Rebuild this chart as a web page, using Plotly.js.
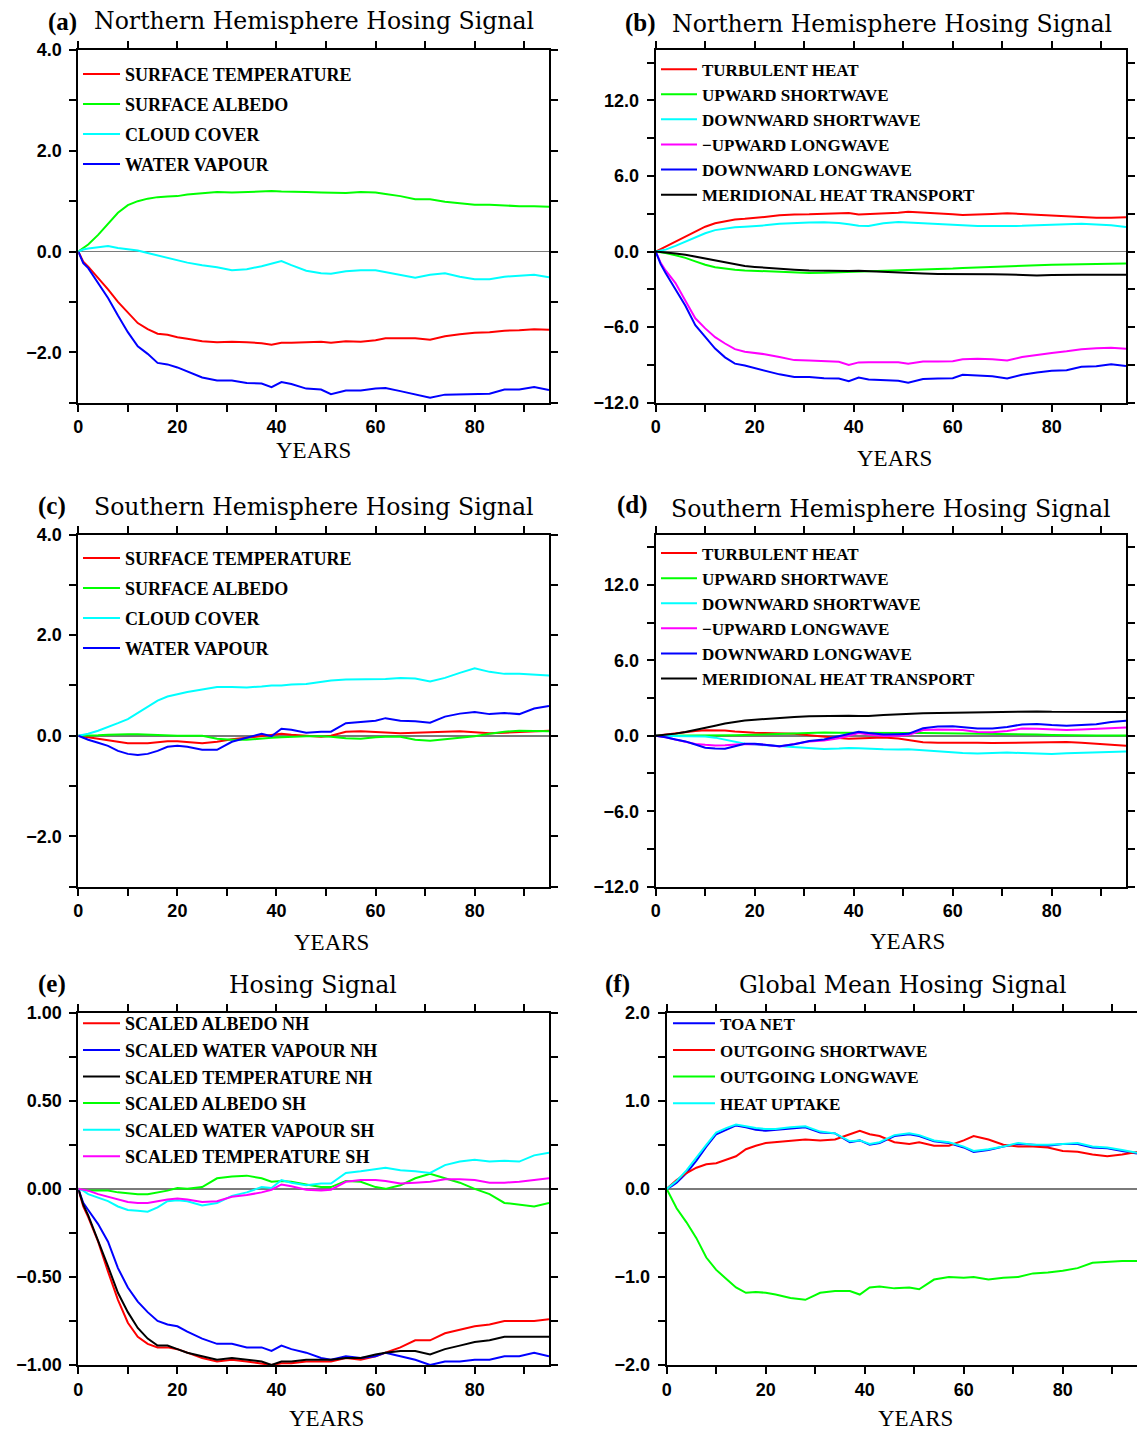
<!DOCTYPE html>
<html>
<head>
<meta charset="utf-8">
<script src="https://cdn.plot.ly/plotly-3.0.1.min.js"></script>
<style>
html,body{margin:0;padding:0;background:#ffffff;}
#chart{width:1137px;height:1432px;}
</style>
</head>
<body>
<div id="chart"></div>
<script>
// ---------------- DATA ----------------
const YEARS = [0,1,2,4,6,8,10,12,14,16,18,20,22,25,28,31,34,37,39,41,43,46,49,51,54,57,60,62,65,68,71,74,77,80,83,86,89,92,95];

// (a) Northern Hemisphere
const A_NAMES = ['SURFACE TEMPERATURE','SURFACE ALBEDO','CLOUD COVER','WATER VAPOUR'];
const A_TEMP = [0,-0.2,-0.3,-0.52,-0.75,-1.0,-1.22,-1.42,-1.54,-1.63,-1.65,-1.7,-1.73,-1.78,-1.8,-1.79,-1.8,-1.82,-1.85,-1.81,-1.81,-1.8,-1.79,-1.81,-1.78,-1.79,-1.76,-1.72,-1.72,-1.72,-1.75,-1.68,-1.64,-1.61,-1.6,-1.57,-1.56,-1.54,-1.55];
const A_ALB  = [0,0.07,0.14,0.33,0.55,0.77,0.92,1.0,1.05,1.08,1.09,1.1,1.13,1.16,1.18,1.17,1.18,1.19,1.2,1.19,1.19,1.18,1.17,1.17,1.16,1.18,1.17,1.14,1.1,1.04,1.04,0.99,0.96,0.93,0.93,0.91,0.9,0.9,0.89];
const A_CLD  = [0,0.04,0.06,0.09,0.11,0.07,0.04,0.02,-0.03,-0.08,-0.13,-0.17,-0.22,-0.27,-0.31,-0.37,-0.35,-0.29,-0.24,-0.19,-0.27,-0.38,-0.43,-0.44,-0.39,-0.37,-0.37,-0.41,-0.47,-0.52,-0.46,-0.43,-0.5,-0.55,-0.55,-0.5,-0.48,-0.46,-0.51];
const A_WV   = [0,-0.23,-0.33,-0.62,-0.92,-1.27,-1.6,-1.88,-2.03,-2.21,-2.24,-2.3,-2.38,-2.5,-2.56,-2.56,-2.61,-2.62,-2.69,-2.59,-2.63,-2.72,-2.74,-2.83,-2.76,-2.76,-2.72,-2.71,-2.77,-2.84,-2.9,-2.84,-2.83,-2.82,-2.82,-2.74,-2.74,-2.69,-2.75];

// (b) Northern Hemisphere surface fluxes
const B_NAMES = ['TURBULENT HEAT','UPWARD SHORTWAVE','DOWNWARD SHORTWAVE','\u2212UPWARD LONGWAVE','DOWNWARD LONGWAVE','MERIDIONAL HEAT TRANSPORT'];
const B_TURB = [0,0.2,0.4,0.8,1.2,1.6,1.97,2.25,2.42,2.55,2.6,2.65,2.75,2.88,2.95,2.96,2.98,3.03,3.06,2.95,2.97,3.05,3.08,3.15,3.1,3.02,2.96,2.9,2.92,2.98,3.04,2.98,2.93,2.85,2.78,2.7,2.69,2.68,2.73];
const B_USW  = [0,-0.05,-0.12,-0.3,-0.5,-0.78,-1.05,-1.25,-1.38,-1.45,-1.5,-1.54,-1.58,-1.62,-1.67,-1.7,-1.69,-1.65,-1.63,-1.6,-1.59,-1.57,-1.54,-1.51,-1.46,-1.42,-1.35,-1.3,-1.25,-1.2,-1.17,-1.13,-1.09,-1.05,-1.03,-1.0,-0.98,-0.96,-0.95];
const B_DSW  = [0,0.05,0.15,0.45,0.8,1.15,1.45,1.7,1.82,1.92,1.97,2.0,2.08,2.2,2.28,2.31,2.33,2.27,2.17,2.05,2.02,2.25,2.34,2.3,2.22,2.17,2.12,2.05,2.02,2.02,2.02,2.04,2.08,2.12,2.2,2.2,2.15,2.08,1.94];
const B_ULW  = [0,-0.9,-1.5,-2.5,-3.9,-5.3,-6.1,-6.8,-7.3,-7.75,-7.95,-8.02,-8.15,-8.38,-8.62,-8.65,-8.68,-8.75,-9.0,-8.8,-8.78,-8.8,-8.78,-8.9,-8.73,-8.72,-8.7,-8.55,-8.52,-8.55,-8.64,-8.38,-8.2,-8.05,-7.92,-7.75,-7.68,-7.64,-7.72];
const B_DLW  = [0,-1.0,-1.7,-3.0,-4.3,-5.85,-6.75,-7.7,-8.4,-8.9,-9.05,-9.25,-9.45,-9.75,-9.95,-9.95,-10.05,-10.08,-10.3,-10.0,-10.15,-10.2,-10.25,-10.41,-10.12,-10.08,-10.05,-9.78,-9.85,-9.9,-10.07,-9.78,-9.6,-9.46,-9.42,-9.15,-9.1,-8.95,-9.09];
const B_MHT  = [0,-0.03,-0.07,-0.15,-0.25,-0.4,-0.55,-0.72,-0.88,-1.03,-1.15,-1.22,-1.29,-1.37,-1.44,-1.5,-1.53,-1.56,-1.55,-1.53,-1.57,-1.63,-1.68,-1.72,-1.75,-1.78,-1.78,-1.76,-1.76,-1.8,-1.82,-1.86,-1.9,-1.87,-1.84,-1.84,-1.84,-1.84,-1.84];

// (c) Southern Hemisphere
const C_NAMES = A_NAMES;
const C_TEMP = [0,-0.01,-0.03,-0.06,-0.09,-0.13,-0.15,-0.15,-0.15,-0.13,-0.11,-0.11,-0.13,-0.15,-0.12,-0.07,-0.04,-0.01,0.02,0.04,0.02,0,-0.02,0,0.08,0.09,0.08,0.07,0.05,0.06,0.07,0.09,0.09,0.07,0.05,0.06,0.07,0.09,0.1];
const C_ALB  = [0,0,0.01,0.01,0.02,0.03,0.03,0.03,0.02,0.01,0.01,0,0,0,-0.06,-0.08,-0.08,-0.05,-0.04,-0.03,-0.02,-0.01,-0.01,-0.02,-0.05,-0.06,-0.03,-0.02,-0.02,-0.08,-0.1,-0.07,-0.05,-0.01,0.04,0.08,0.1,0.1,0.09];
const C_CLD  = [0,0.02,0.04,0.1,0.17,0.25,0.33,0.45,0.58,0.7,0.78,0.83,0.87,0.92,0.97,0.97,0.96,0.98,1.0,1.0,1.02,1.03,1.07,1.1,1.12,1.12,1.12,1.13,1.15,1.14,1.08,1.15,1.25,1.34,1.27,1.23,1.23,1.22,1.2];
const C_WV   = [0,-0.04,-0.08,-0.14,-0.2,-0.3,-0.36,-0.38,-0.36,-0.3,-0.22,-0.2,-0.22,-0.28,-0.28,-0.12,-0.04,0.04,-0.01,0.14,0.12,0.06,0.08,0.08,0.25,0.28,0.3,0.35,0.3,0.29,0.26,0.38,0.44,0.47,0.43,0.45,0.43,0.54,0.59];

// (d) Southern Hemisphere surface fluxes
const D_NAMES = B_NAMES;
const D_TURB = [0,0.05,0.1,0.2,0.3,0.38,0.43,0.45,0.42,0.33,0.26,0.23,0.21,0.2,0.15,0.05,-0.08,-0.18,-0.23,-0.2,-0.14,-0.13,-0.22,-0.35,-0.52,-0.56,-0.55,-0.53,-0.55,-0.57,-0.56,-0.53,-0.5,-0.48,-0.5,-0.56,-0.62,-0.72,-0.8];
const D_USW  = [0,0,0,0.01,0.01,0.01,0.02,0.03,0.04,0.05,0.06,0.08,0.1,0.15,0.2,0.24,0.25,0.23,0.22,0.21,0.21,0.21,0.21,0.21,0.21,0.2,0.2,0.19,0.18,0.17,0.15,0.13,0.1,0.07,0.04,0.03,0.03,0.03,0.03];
const D_DSW  = [0,0,-0.01,-0.02,-0.03,-0.04,-0.05,-0.15,-0.3,-0.5,-0.64,-0.7,-0.75,-0.8,-0.9,-1.0,-1.05,-1.02,-0.98,-1.0,-1.05,-1.08,-1.1,-1.08,-1.15,-1.25,-1.33,-1.38,-1.41,-1.38,-1.33,-1.38,-1.42,-1.46,-1.4,-1.35,-1.3,-1.27,-1.25];
const D_ULW  = [0,-0.05,-0.12,-0.3,-0.5,-0.65,-0.72,-0.77,-0.75,-0.7,-0.65,-0.68,-0.72,-0.85,-0.68,-0.45,-0.38,-0.2,0.0,0.22,0.1,-0.02,0.0,0.05,0.45,0.5,0.48,0.45,0.3,0.27,0.38,0.58,0.56,0.5,0.46,0.5,0.55,0.62,0.66];
const D_DLW  = [0,-0.05,-0.12,-0.3,-0.45,-0.7,-0.95,-1.02,-1.04,-0.83,-0.64,-0.63,-0.7,-0.83,-0.68,-0.42,-0.3,-0.05,0.1,0.32,0.22,0.1,0.12,0.15,0.6,0.74,0.75,0.7,0.58,0.58,0.7,0.9,0.93,0.85,0.8,0.85,0.92,1.1,1.19];
const D_MHT  = [0,0.03,0.07,0.17,0.3,0.45,0.62,0.8,0.98,1.12,1.22,1.28,1.35,1.42,1.5,1.55,1.58,1.59,1.59,1.58,1.57,1.65,1.72,1.74,1.78,1.8,1.82,1.84,1.86,1.88,1.91,1.94,1.93,1.9,1.89,1.88,1.88,1.88,1.88];

// (e) Scaled hosing signal
const E_NAMES = ['SCALED ALBEDO NH','SCALED WATER VAPOUR NH','SCALED TEMPERATURE NH','SCALED ALBEDO SH','SCALED WATER VAPOUR SH','SCALED TEMPERATURE SH'];
const E_ALB_NH = [0,-0.1,-0.16,-0.3,-0.47,-0.63,-0.76,-0.84,-0.88,-0.9,-0.9,-0.91,-0.93,-0.96,-0.98,-0.97,-0.98,-0.99,-1.0,-0.99,-0.99,-0.98,-0.98,-0.98,-0.96,-0.97,-0.95,-0.93,-0.9,-0.86,-0.86,-0.82,-0.8,-0.78,-0.77,-0.75,-0.75,-0.75,-0.74];
const E_WV_NH  = [0,-0.08,-0.12,-0.2,-0.3,-0.45,-0.56,-0.64,-0.7,-0.75,-0.77,-0.78,-0.81,-0.85,-0.88,-0.88,-0.9,-0.9,-0.92,-0.89,-0.91,-0.93,-0.96,-0.97,-0.95,-0.96,-0.95,-0.93,-0.95,-0.97,-1.0,-0.98,-0.98,-0.97,-0.97,-0.95,-0.95,-0.93,-0.95];
const E_TMP_NH = [0,-0.09,-0.15,-0.29,-0.44,-0.59,-0.7,-0.79,-0.85,-0.89,-0.89,-0.91,-0.93,-0.95,-0.97,-0.96,-0.97,-0.98,-1.0,-0.98,-0.98,-0.97,-0.97,-0.97,-0.96,-0.96,-0.94,-0.93,-0.92,-0.92,-0.94,-0.91,-0.89,-0.87,-0.86,-0.84,-0.84,-0.84,-0.84];
const E_ALB_SH = [0,-0.005,-0.01,-0.01,-0.01,-0.02,-0.025,-0.03,-0.03,-0.02,-0.01,0.005,0.0,0.01,0.06,0.07,0.075,0.06,0.04,0.045,0.04,0.025,0.01,0.01,0.045,0.04,0.01,0.0,0.02,0.06,0.085,0.06,0.035,0.0,-0.03,-0.08,-0.09,-0.1,-0.08];
const E_WV_SH  = [0,-0.01,-0.03,-0.05,-0.07,-0.1,-0.12,-0.125,-0.13,-0.105,-0.07,-0.065,-0.07,-0.095,-0.08,-0.04,-0.02,0.01,0.005,0.05,0.035,0.02,0.03,0.03,0.09,0.1,0.11,0.12,0.105,0.1,0.09,0.135,0.155,0.165,0.155,0.16,0.155,0.19,0.205];
const E_TMP_SH = [0,-0.005,-0.01,-0.03,-0.045,-0.06,-0.075,-0.08,-0.08,-0.07,-0.06,-0.055,-0.06,-0.075,-0.07,-0.045,-0.035,-0.02,-0.005,0.025,0.015,-0.005,-0.01,-0.005,0.04,0.05,0.05,0.045,0.03,0.035,0.04,0.055,0.055,0.05,0.035,0.035,0.04,0.05,0.06];

// (f) Global mean
const F_NAMES = ['TOA NET','OUTGOING SHORTWAVE','OUTGOING LONGWAVE','HEAT UPTAKE'];
const F_TOA  = [0,0.03,0.07,0.18,0.32,0.48,0.62,0.67,0.72,0.7,0.67,0.66,0.67,0.69,0.7,0.64,0.63,0.53,0.55,0.5,0.52,0.6,0.62,0.6,0.54,0.52,0.47,0.42,0.44,0.48,0.51,0.5,0.49,0.51,0.51,0.47,0.46,0.43,0.4];
const F_OSW  = [0,0.05,0.1,0.18,0.24,0.28,0.29,0.33,0.37,0.45,0.49,0.52,0.53,0.55,0.56,0.55,0.56,0.62,0.66,0.62,0.6,0.53,0.51,0.53,0.49,0.49,0.55,0.6,0.56,0.5,0.48,0.48,0.47,0.43,0.42,0.39,0.37,0.39,0.42];
const F_OLW  = [0,-0.12,-0.22,-0.38,-0.56,-0.78,-0.92,-1.02,-1.12,-1.18,-1.17,-1.18,-1.2,-1.24,-1.26,-1.18,-1.16,-1.16,-1.2,-1.12,-1.11,-1.13,-1.12,-1.14,-1.03,-1.0,-1.01,-1.0,-1.03,-1.01,-1.0,-0.96,-0.95,-0.93,-0.9,-0.84,-0.83,-0.82,-0.82];
const F_HEAT = [0,0.04,0.09,0.21,0.36,0.5,0.64,0.69,0.73,0.71,0.69,0.68,0.68,0.7,0.71,0.65,0.63,0.54,0.55,0.51,0.53,0.61,0.63,0.61,0.55,0.53,0.48,0.43,0.45,0.48,0.52,0.5,0.5,0.51,0.52,0.48,0.47,0.44,0.41];

// ---------------- STYLE / LAYOUT ----------------
const W = 1137, H = 1432;
const fx = px => px / W;
const fy = py => 1 - py / H;

const RED='#ff0000', GRN='#00ff00', CYN='#00ffff', BLU='#0000ff', MAG='#ff00ff', BLK='#000000';

const panels = [
  {id:'', leg:'legend',  names:A_NAMES, data:[A_TEMP,A_ALB,A_CLD,A_WV], colors:[RED,GRN,CYN,BLU],
   xd:[78.3,549], yd:[50,402.7], yr:[-3,4], dt:2, mdt:1, fmt:'.1f',
   legPos:[78,55.8], legW:37, legGap:3.6, legSize:18},
  {id:'2', leg:'legend2', names:B_NAMES, data:[B_TURB,B_USW,B_DSW,B_ULW,B_DLW,B_MHT], colors:[RED,GRN,CYN,MAG,BLU,BLK],
   xd:[655.7,1126], yd:[50,402.7], yr:[-12,16], dt:6, mdt:3, fmt:'.1f',
   legPos:[656,51.6], legW:36, legGap:0, legSize:17},
  {id:'3', leg:'legend3', names:C_NAMES, data:[C_TEMP,C_ALB,C_CLD,C_WV], colors:[RED,GRN,CYN,BLU],
   xd:[78.3,549], yd:[534.5,886.7], yr:[-3,4], dt:2, mdt:1, fmt:'.1f',
   legPos:[78,539.8], legW:37, legGap:3.6, legSize:18},
  {id:'4', leg:'legend4', names:D_NAMES, data:[D_TURB,D_USW,D_DSW,D_ULW,D_DLW,D_MHT], colors:[RED,GRN,CYN,MAG,BLU,BLK],
   xd:[655.7,1126], yd:[534.5,886.7], yr:[-12,16], dt:6, mdt:3, fmt:'.1f',
   legPos:[656,535.5], legW:36, legGap:0, legSize:17},
  {id:'5', leg:'legend5', names:E_NAMES, data:[E_ALB_NH,E_WV_NH,E_TMP_NH,E_ALB_SH,E_WV_SH,E_TMP_SH], colors:[RED,BLU,BLK,GRN,CYN,MAG],
   xd:[78.3,549], yd:[1012.7,1365], yr:[-1,1], dt:0.5, mdt:0.25, fmt:'.2f',
   legPos:[78,1005.1], legW:37, legGap:0.2, legSize:18},
  {id:'6', leg:'legend6', names:F_NAMES, data:[F_TOA,F_OSW,F_OLW,F_HEAT], colors:[BLU,RED,GRN,CYN],
   xd:[666.7,1137], yd:[1012.7,1365], yr:[-2,2], dt:1, mdt:0.5, fmt:'.1f',
   legPos:[668,1005.8], legW:42, legGap:1.5, legSize:17}
];

const tickFont = {family:'"Liberation Sans", Arial, sans-serif', size:18, weight:'bold', color:'#000'};
const legFamily = '"Liberation Serif", "Times New Roman", serif';

const traces = [];
const layout = {
  width: W, height: H,
  margin: {l:0, r:0, t:0, b:0},
  paper_bgcolor: '#ffffff', plot_bgcolor: '#ffffff',
  showlegend: true, hovermode: false,
  annotations: []
};

panels.forEach((p, pi) => {
  const xa = 'x' + p.id, ya = 'y' + p.id;
  p.data.forEach((arr, i) => {
    traces.push({
      type:'scatter', mode:'lines', x: YEARS, y: arr, name: p.names[i],
      xaxis: xa, yaxis: ya, legend: p.leg, legendgroup: 'g' + pi + '_' + i,
      line: {color: p.colors[i], width: 2}, hoverinfo: 'skip'
    });
  });
  const common = {
    showline:true, linecolor:'#000', linewidth:2, mirror:'ticks',
    ticks:'outside', ticklen:7, tickwidth:2, tickcolor:'#000',
    showgrid:false, tickfont: tickFont, fixedrange:true
  };
  layout['xaxis' + p.id] = Object.assign({}, common, {
    domain:[fx(p.xd[0]), Math.min(1, fx(p.xd[1]))], anchor: ya, range:[0,95],
    tick0:0, dtick:20, zeroline:false, ticklabelstandoff: 0,
    minor:{dtick:10, ticks:'outside', ticklen:7, tickwidth:2, tickcolor:'#000', showgrid:false}
  });
  layout['yaxis' + p.id] = Object.assign({}, common, {
    domain:[fy(p.yd[1]), fy(p.yd[0])], anchor: xa, range:p.yr,
    tick0:0, dtick:p.dt, tickformat:p.fmt, ticklabelstandoff: 4,
    zeroline:true, zerolinecolor:'#7a7a7a', zerolinewidth:1.5,
    minor:{dtick:p.mdt, ticks:'outside', ticklen:7, tickwidth:2, tickcolor:'#000', showgrid:false}
  });
  layout[p.leg] = {
    x: fx(p.legPos[0]), y: fy(p.legPos[1]), xanchor:'left', yanchor:'top',
    bgcolor:'rgba(0,0,0,0)', borderwidth:0,
    font: {family: legFamily, size: p.legSize, weight:'bold', color:'#000'},
    itemwidth: p.legW, tracegroupgap: p.legGap, traceorder:'grouped',
    itemclick:false, itemdoubleclick:false
  };
});

// Titles and axis labels
const TITLE_FONT = {family:'"DejaVu Serif", serif', size:23.6, color:'#000'};
const TAG_FONT   = {family:'"Liberation Serif", serif', size:25, weight:'bold', color:'#000'};
const AXIS_FONT  = {family:'"Liberation Serif", serif', size:23, color:'#000'};

const TITLES = [
  ['(a)', 62, 21.8, 'Northern Hemisphere Hosing Signal', 313.5, 21.3, 313.5, 450.5],
  ['(b)', 640, 23.3, 'Northern Hemisphere Hosing Signal', 891.5, 23.8, 894, 458.7],
  ['(c)', 51.5, 506, 'Southern Hemisphere Hosing Signal', 313.5, 507, 331, 942.2],
  ['(d)', 632, 505, 'Southern Hemisphere Hosing Signal', 891, 508.7, 907, 942],
  ['(e)', 51.5, 984, 'Hosing Signal', 313, 985.3, 326, 1418.5],
  ['(f)', 617, 984, 'Global Mean Hosing Signal', 902.6, 985.3, 915, 1418.5]
];
const AXIS_LABEL = 'YEARS';

TITLES.forEach(t => {
  layout.annotations.push({xref:'paper', yref:'paper', x:fx(t[1]), y:fy(t[2]), xanchor:'center', yanchor:'middle', text:t[0], showarrow:false, font:TAG_FONT});
  layout.annotations.push({xref:'paper', yref:'paper', x:fx(t[4]), y:fy(t[5]), xanchor:'center', yanchor:'middle', text:t[3], showarrow:false, font:TITLE_FONT});
  layout.annotations.push({xref:'paper', yref:'paper', x:fx(t[6]), y:fy(t[7]), xanchor:'center', yanchor:'middle', text:AXIS_LABEL, showarrow:false, font:AXIS_FONT});
});

Plotly.newPlot('chart', traces, layout, {displayModeBar:false, staticPlot:true});
</script>
</body>
</html>
